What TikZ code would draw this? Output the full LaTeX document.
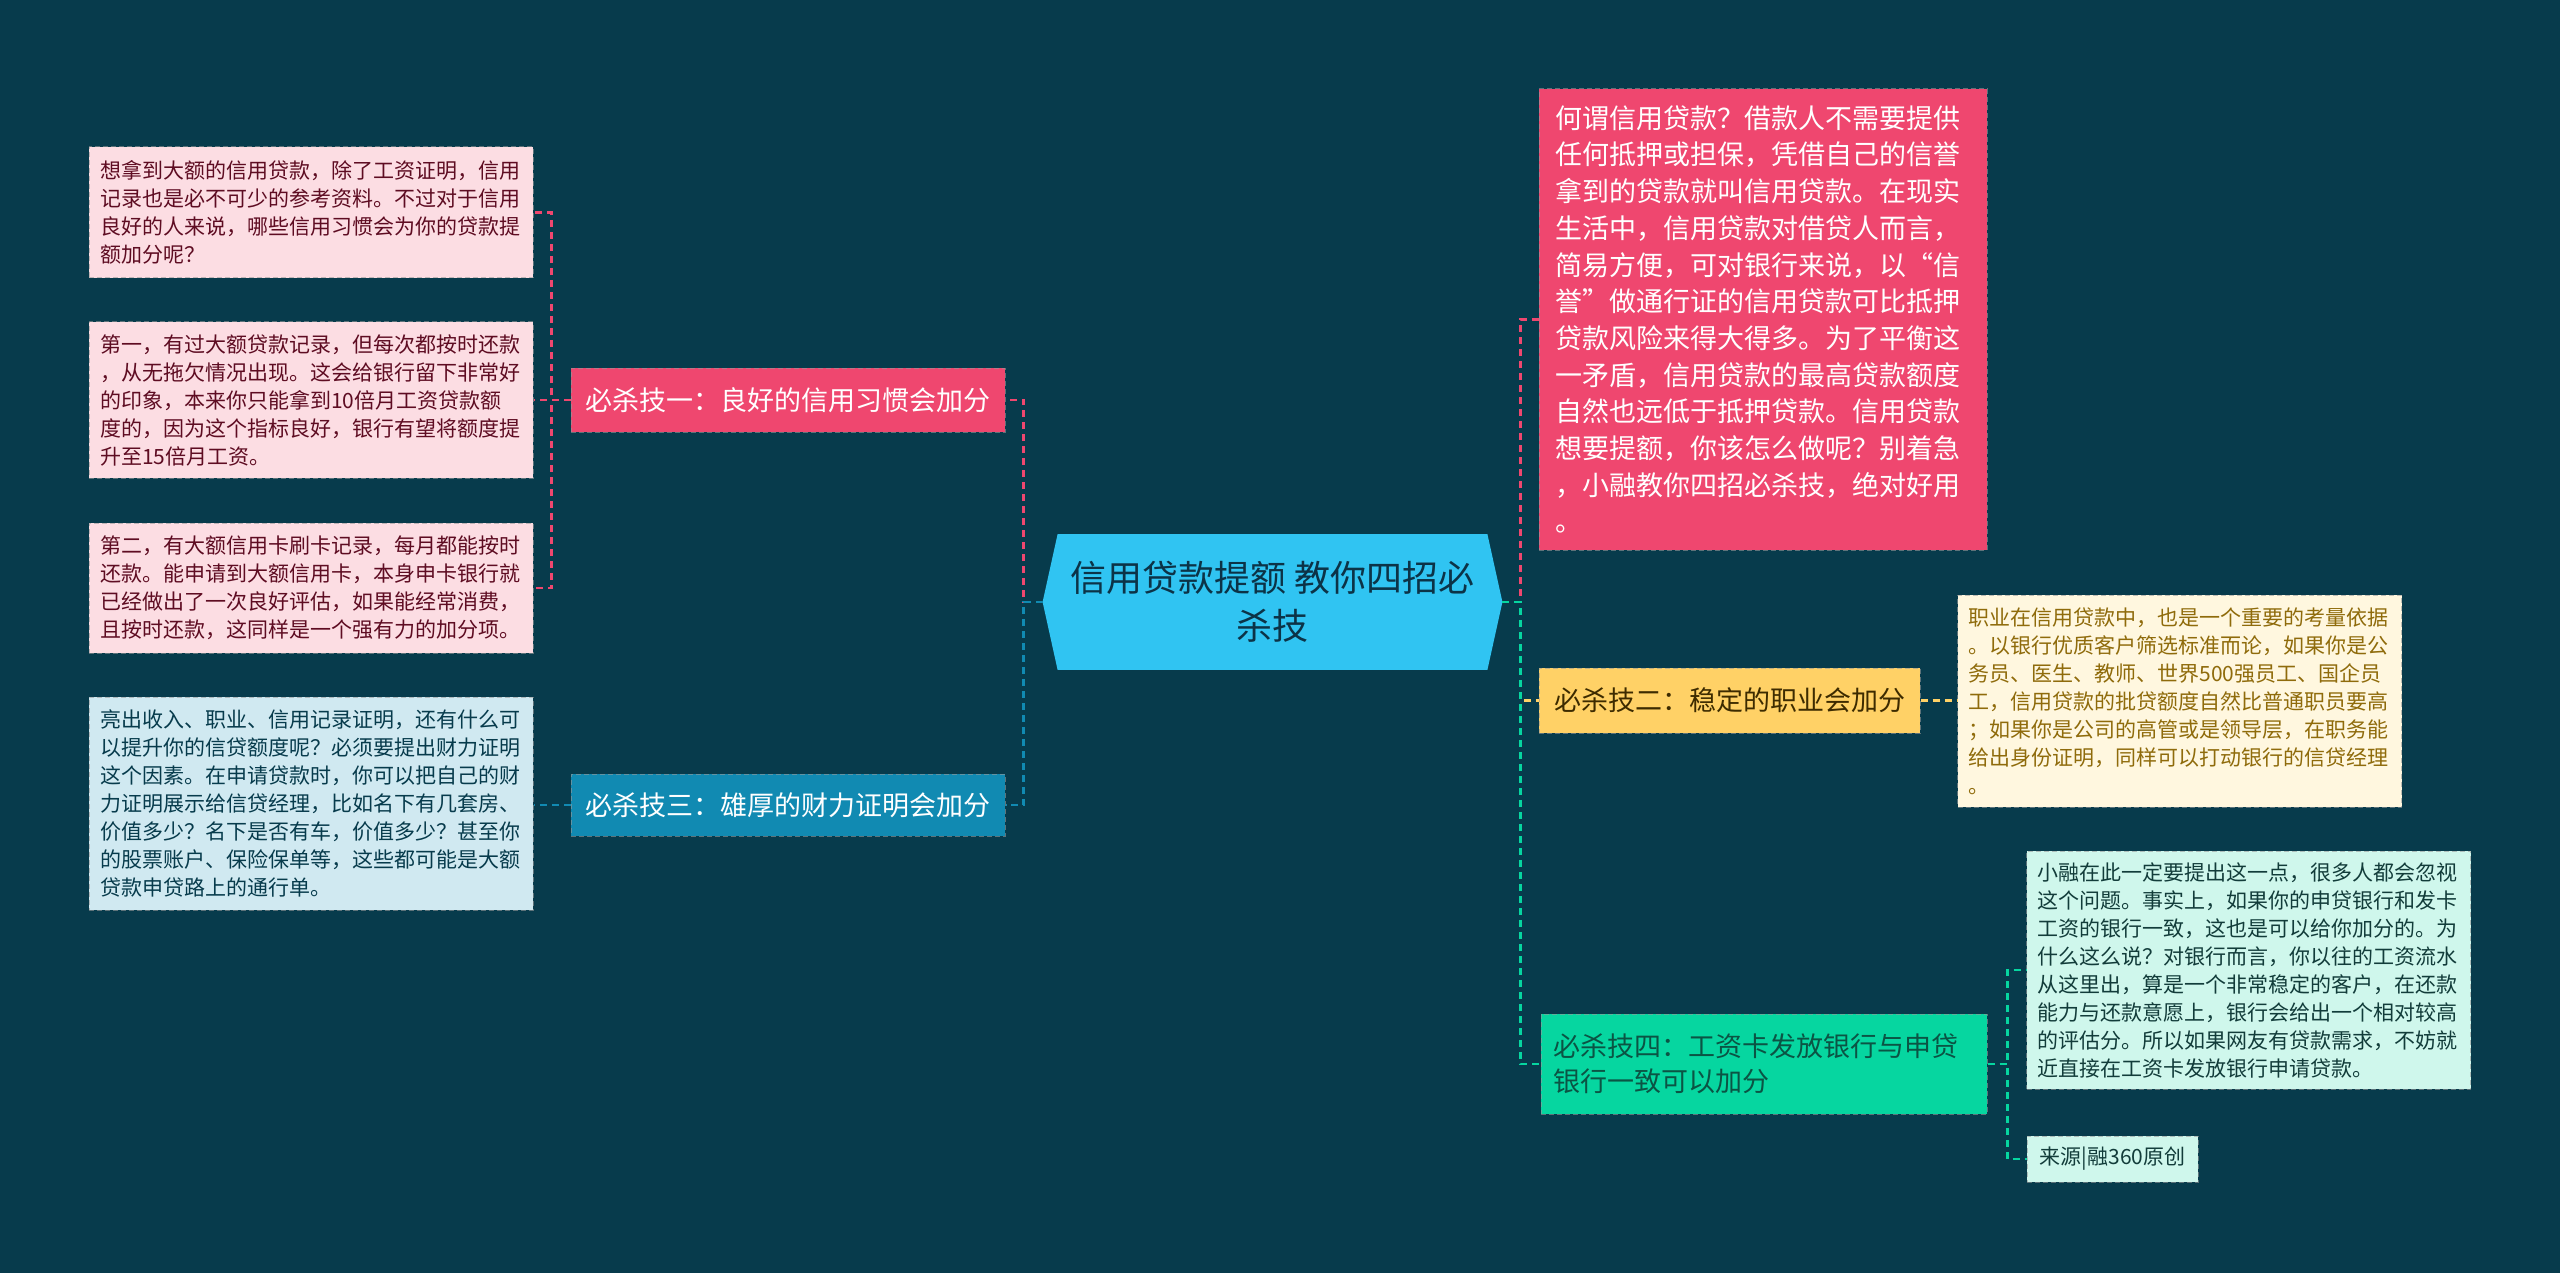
\documentclass[tikz,border=0pt]{standalone}
\usepackage{fontspec}
\setmainfont{Noto Sans CJK SC}
\usetikzlibrary{backgrounds}
\definecolor{bgc}{HTML}{073B4C}
\definecolor{pinkc}{HTML}{EF476F}
\definecolor{bluec}{HTML}{118AB2}
\definecolor{yellowc}{HTML}{FFD166}
\definecolor{greenc}{HTML}{06D6A0}
\definecolor{rootc}{HTML}{30C4F2}
\definecolor{pinkleaf}{HTML}{FCDDE3}
\definecolor{blueleaf}{HTML}{D0E9F1}
\definecolor{creamleaf}{HTML}{FFF7DF}
\definecolor{mintleaf}{HTML}{CFF7EC}
\definecolor{pinktext}{HTML}{5E0C22}
\definecolor{bluetext}{HTML}{073B4C}
\definecolor{creamtext}{HTML}{8F6B0B}
\definecolor{minttext}{HTML}{123C3A}
\definecolor{yellowtext}{HTML}{3D2B00}
\definecolor{greentext}{HTML}{0B5444}
\definecolor{roottext}{HTML}{0C3347}
\begin{document}
\begin{tikzpicture}[x=0.5pt,y=-0.5pt,
  conn/.style={line width=1.3pt, dash pattern=on 3.5pt off 2.5pt},
  box/.style={rectangle, inner ysep=0pt, draw=black!40, draw opacity=0.6, line width=0.5pt, dash pattern=on 2.5pt off 1.5pt},
  leaf/.style={box, align=left, font=\fontsize{10.5pt}{14pt}\selectfont, text width=211pt, inner xsep=5.5pt},
  pleaf/.style={leaf, fill=pinkleaf, text=pinktext},
  branch/.style={box, align=center, font=\fontsize{13.5pt}{17.5pt}\selectfont, inner xsep=7pt}
]
\useasboundingbox (0,0) rectangle (2560,1273);

% root
\node[inner sep=0pt, minimum width=229.5pt, minimum height=67.5pt, align=center,
  font=\fontsize{18pt}{24pt}\selectfont, text=roottext] (root) at (1272.5,602)
  {信用贷款提额 教你四招必\\杀技};

% left side
\node[branch, fill=pinkc, text=white, minimum width=217pt, minimum height=32pt] (B1) at (788,400)
  {必杀技一：良好的信用习惯会加分};
\node[branch, fill=bluec, text=white, minimum width=217pt, minimum height=31pt] (B3) at (788,805)
  {必杀技三：雄厚的财力证明会加分};

\node[pleaf, minimum height=65.5pt] (L1) at (311,212.5)
  {想拿到大额的信用贷款，除了工资证明，信用\\记录也是必不可少的参考资料。不过对于信用\\良好的人来说，哪些信用习惯会为你的贷款提\\额加分呢？};
\node[pleaf, minimum height=78pt] (L2) at (311,400)
  {第一，有过大额贷款记录，但每次都按时还款\\，从无拖欠情况出现。这会给银行留下非常好\\的印象，本来你只能拿到10倍月工资贷款额\\度的，因为这个指标良好，银行有望将额度提\\升至15倍月工资。};
\node[pleaf, minimum height=65pt] (L3) at (311,588)
  {第二，有大额信用卡刷卡记录，每月都能按时\\还款。能申请到大额信用卡，本身申卡银行就\\已经做出了一次良好评估，如果能经常消费，\\且按时还款，这同样是一个强有力的加分项。};
\node[leaf, fill=blueleaf, text=bluetext, minimum height=106.5pt] (L4) at (311,803.5)
  {亮出收入、职业、信用记录证明，还有什么可\\以提升你的信贷额度呢？必须要提出财力证明\\这个因素。在申请贷款时，你可以把自己的财\\力证明展示给信贷经理，比如名下有几套房、\\价值多少？名下是否有车，价值多少？甚至你\\的股票账户、保险保单等，这些都可能是大额\\贷款申贷路上的通行单。};

% right side
\node[box, fill=pinkc, text=white, align=left, font=\fontsize{13.5pt}{18.35pt}\selectfont,
  text width=208pt, inner xsep=8pt, minimum height=230.5pt] (R1) at (1763,319.5)
  {何谓信用贷款？借款人不需要提供\\任何抵押或担保，凭借自己的信誉\\拿到的贷款就叫信用贷款。在现实\\生活中，信用贷款对借贷人而言，\\简易方便，可对银行来说，以“信\\誉”做通行证的信用贷款可比抵押\\贷款风险来得大得多。为了平衡这\\一矛盾，信用贷款的最高贷款额度\\自然也远低于抵押贷款。信用贷款\\想要提额，你该怎么做呢？别着急\\，小融教你四招必杀技，绝对好用\\。};

\node[branch, fill=yellowc, text=yellowtext, minimum width=190.5pt, minimum height=32.5pt] (R2) at (1729.5,700.5)
  {必杀技二：稳定的职业会加分};
\node[leaf, fill=creamleaf, text=creamtext, minimum height=106pt] (R2L) at (2179.5,701)
  {职业在信用贷款中，也是一个重要的考量依据\\。以银行优质客户筛选标准而论，如果你是公\\务员、医生、教师、世界500强员工、国企员\\工，信用贷款的批贷额度自然比普通职员要高\\；如果你是公司的高管或是领导层，在职务能\\给出身份证明，同样可以打动银行的信贷经理\\。};

\node[box, fill=greenc, text=greentext, align=left, font=\fontsize{13.5pt}{17.5pt}\selectfont,
  text width=211pt, inner xsep=6pt, minimum height=50pt] (R4) at (1764,1064)
  {必杀技四：工资卡发放银行与申贷\\银行一致可以加分};
\node[leaf, fill=mintleaf, text=minttext, minimum height=119pt] (R4L1) at (2248.5,970)
  {小融在此一定要提出这一点，很多人都会忽视\\这个问题。事实上，如果你的申贷银行和发卡\\工资的银行一致，这也是可以给你加分的。为\\什么这么说？对银行而言，你以往的工资流水\\从这里出，算是一个非常稳定的客户，在还款\\能力与还款意愿上，银行会给出一个相对较高\\的评估分。所以如果网友有贷款需求，不妨就\\近直接在工资卡发放银行申请贷款。};
\node[box, fill=mintleaf, text=minttext, font=\fontsize{10.5pt}{14pt}\selectfont,
  inner xsep=5.5pt, minimum width=85.5pt, minimum height=23pt] (R4L2) at (2112.5,1159)
  {来源|融360原创};

% connectors
\draw[conn, pinkc] (root.west) -- ++(-19,0) |- (B1.east);
\draw[conn, bluec] (root.west) -- ++(-19,0) |- (B3.east);
\draw[conn, pinkc] (B1.west) -- ++(-19,0) |- (L1.east);
\draw[conn, pinkc] (B1.west) -- (L2.east);
\draw[conn, pinkc] (B1.west) -- ++(-19,0) |- (L3.east);
\draw[conn, bluec] (B3.west) -- (B3.west -| L4.east);

\draw[conn, pinkc] (root.east) -- ++(18,0) |- (R1.west);
\draw[conn, yellowc] (root.east) -- ++(18,0) |- (R2.west);
\draw[conn, greenc] (root.east) -- ++(18,0) |- (R4.west);
\draw[conn, yellowc] (R2.east) -- (R2.east -| R2L.west);
\draw[conn, greenc] (R4.east) -- ++(20,0) |- (R4L1.west);
\draw[conn, greenc] (R4.east) -- ++(20,0) |- (R4L2.west);

\begin{scope}[on background layer]
  \fill[bgc] (0,0) rectangle (2560,1273);
  \fill[rootc] (root.west) -- ([xshift=7.5pt]root.north west) -- ([xshift=-7.5pt]root.north east)
    -- (root.east) -- ([xshift=-7.5pt]root.south east) -- ([xshift=7.5pt]root.south west) -- cycle;
\end{scope}
\end{tikzpicture}
\end{document}
